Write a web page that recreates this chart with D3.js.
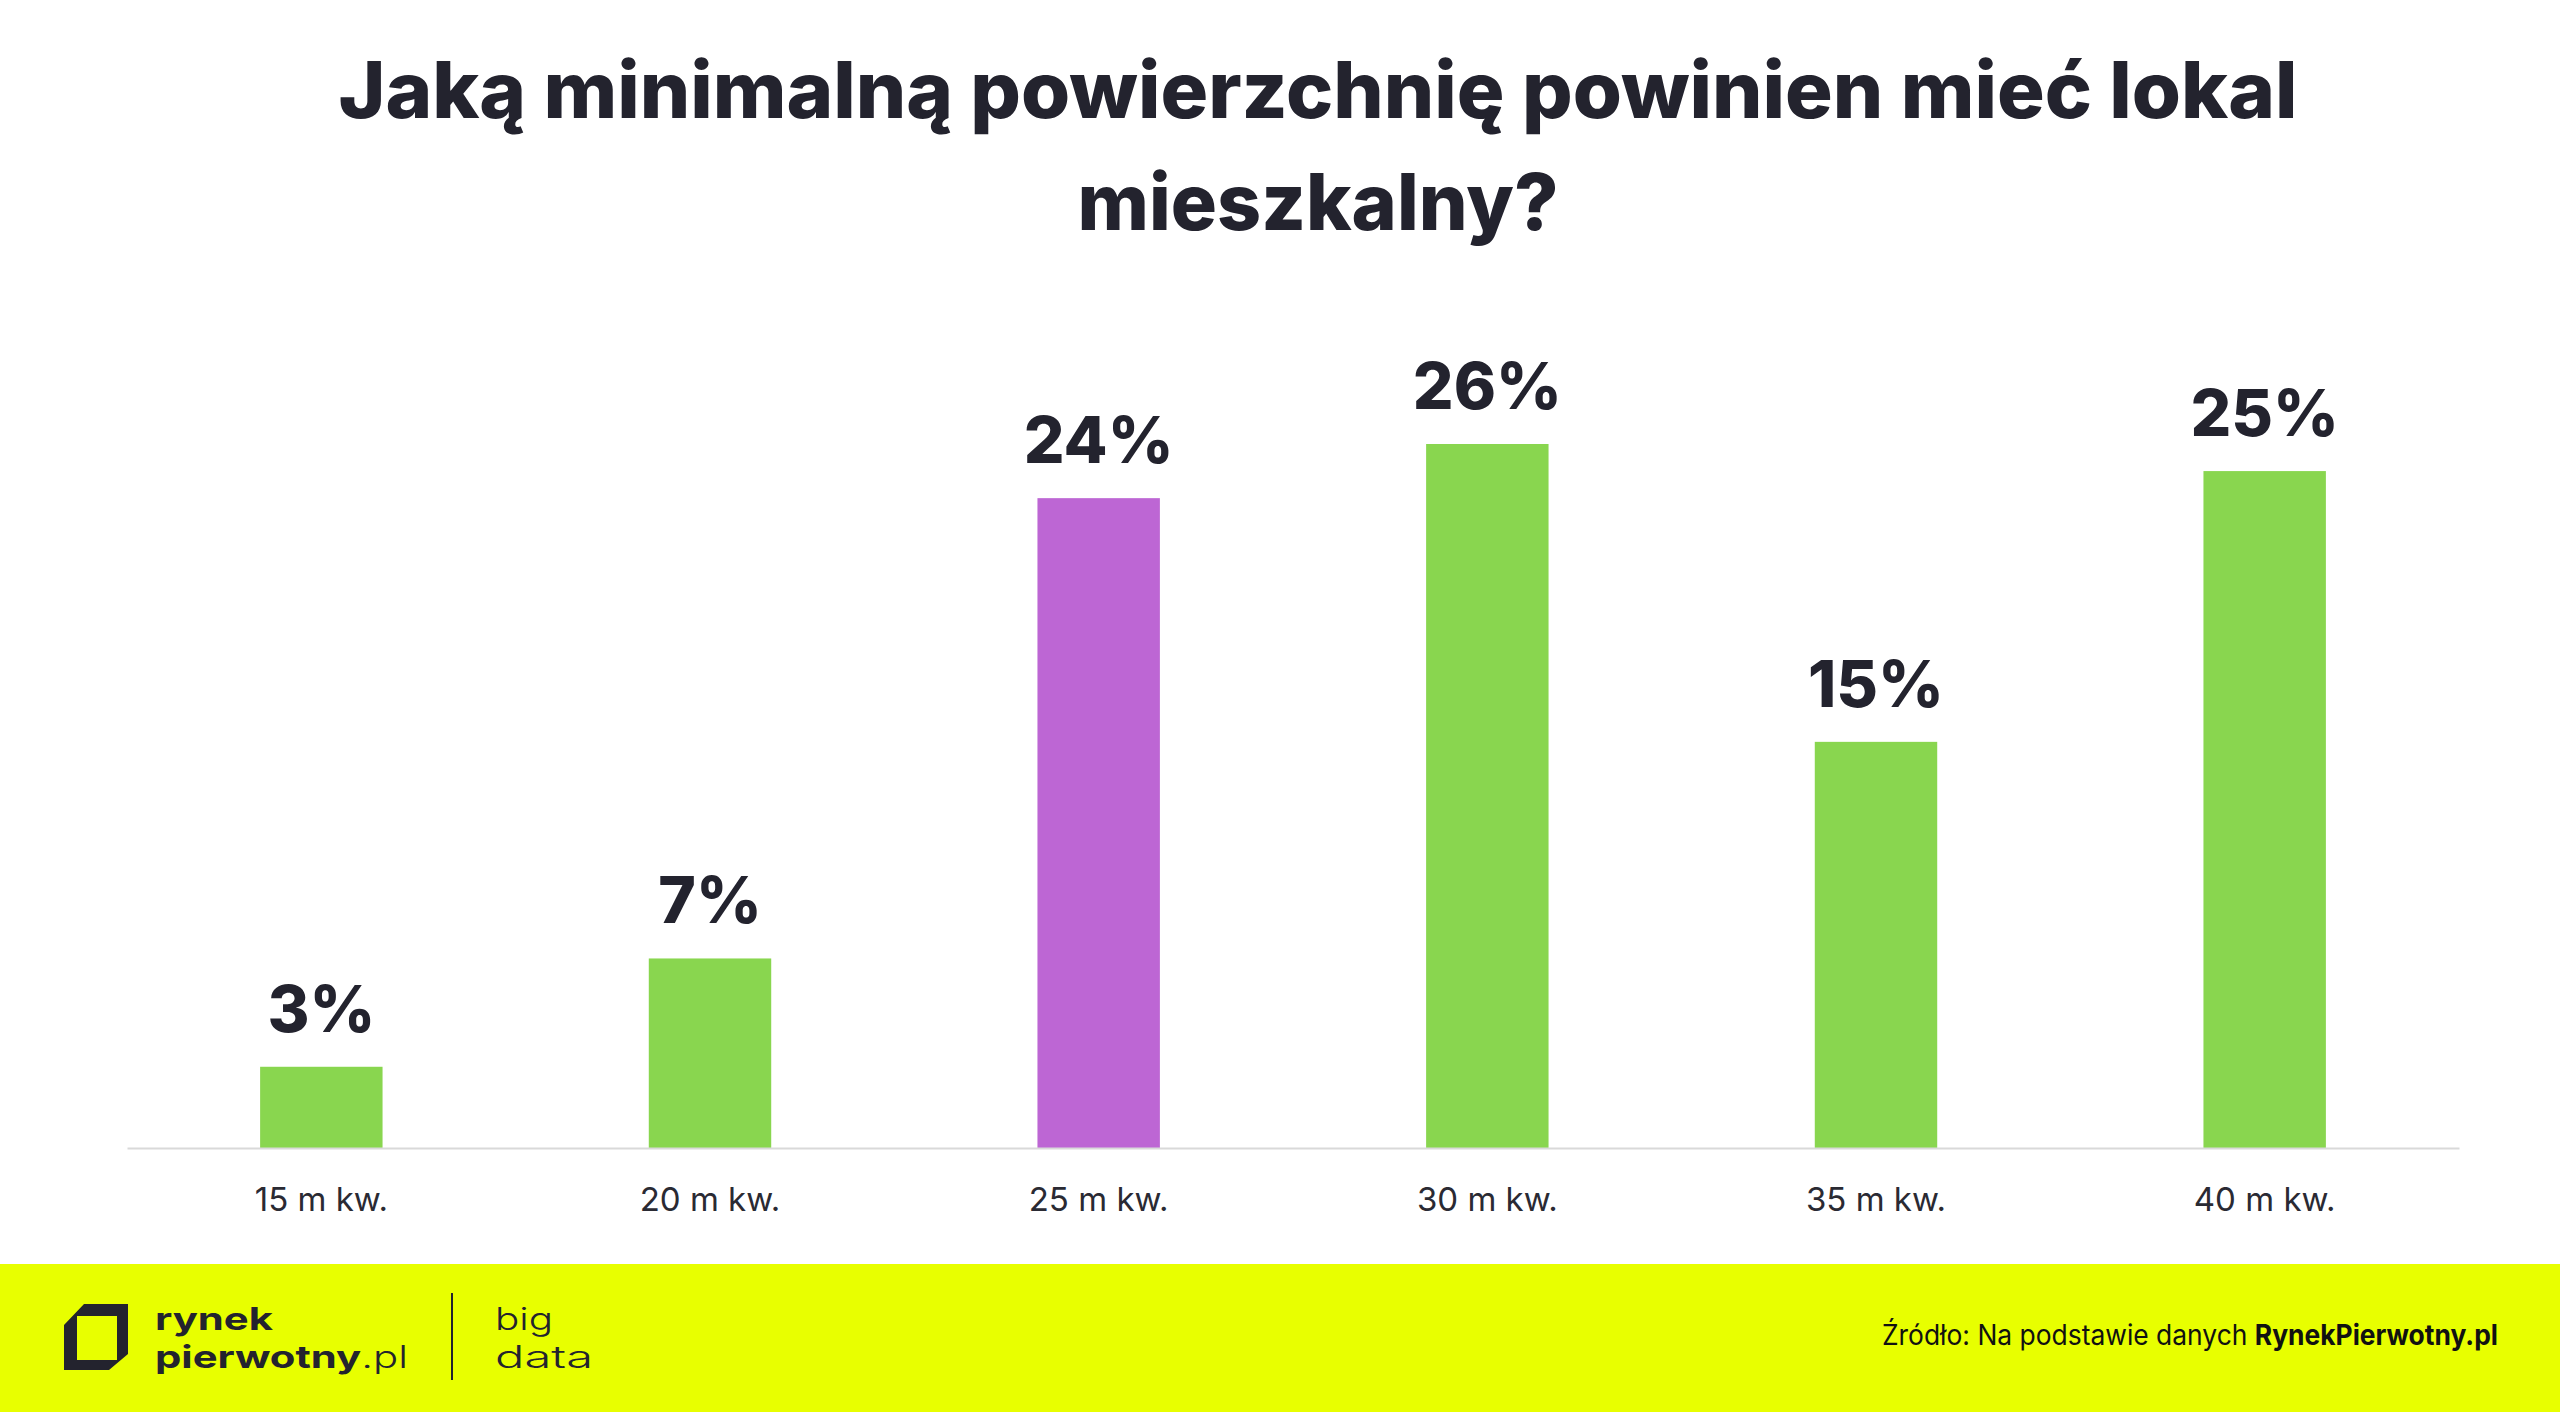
<!DOCTYPE html>
<html>
<head>
<meta charset="utf-8">
<script src="https://cdn.jsdelivr.net/npm/d3@7"></script>
<style>
  html, body { margin: 0; padding: 0; background: #ffffff; }
  svg { display: block; }
</style>
</head>
<body>
<svg id="chart" width="2560" height="1412"></svg>
<script>
// ---- data ----
const titleLines = ["Jaką minimalną powierzchnię powinien mieć lokal", "mieszkalny?"];
const categories = ["15 m kw.", "20 m kw.", "25 m kw.", "30 m kw.", "35 m kw.", "40 m kw."];
const values = [3, 7, 24, 26, 15, 25];
const highlighted = ["25 m kw."];
const sourcePrefix = "Źródło: Na podstawie danych ";
const sourceBold = "RynekPierwotny.pl";

// ---- layout ----
const W = 2560, H = 1412;
const dark = "#23232e";
const green = "#89d64f";
const purple = "#bd66d4";
const yellow = "#e8ff00";
const fontBold = "Inter, 'Open Sans', sans-serif";

const svg = d3.select("#chart");
svg.append("rect").attr("x", 0).attr("y", 0).attr("width", W).attr("height", H).attr("fill", "#fff");

// title
const titleWidths = [1959, 481];
const titleBaselines = [118, 230];
titleLines.forEach((t, i) => {
  svg.append("text")
    .attr("x", 1318).attr("y", titleBaselines[i])
    .attr("text-anchor", "middle")
    .attr("font-family", fontBold)
    .attr("font-weight", 800)
    .attr("font-size", 78)
    .attr("fill", dark)
    .attr("textLength", titleWidths[i])
    .attr("lengthAdjust", "spacingAndGlyphs")
    .text(t);
});

// scales
const x = d3.scaleBand().domain(categories).range([127, 2459]).paddingInner(0.685).paddingOuter(0.3425);
const y = d3.scaleLinear().domain([0, 26]).range([1148, 444]);

// bars
svg.append("g").selectAll("rect")
  .data(categories)
  .join("rect")
  .attr("x", d => x(d))
  .attr("y", (d, i) => y(values[i]))
  .attr("width", x.bandwidth())
  .attr("height", (d, i) => y(0) - y(values[i]))
  .attr("fill", d => highlighted.includes(d) ? purple : green);

// value labels
svg.append("g").selectAll("text")
  .data(categories)
  .join("text")
  .attr("x", d => x(d) + x.bandwidth() / 2)
  .attr("y", (d, i) => y(values[i]) - 35)
  .attr("text-anchor", "middle")
  .attr("font-family", fontBold)
  .attr("font-weight", 800)
  .attr("font-size", 64)
  .attr("fill", dark)
  .text((d, i) => values[i] + "%");

// x axis
const axis = svg.append("g").attr("transform", `translate(0,${y(0)})`)
  .call(d3.axisBottom(x).tickSize(0).tickPadding(52));
axis.select(".domain").attr("stroke", "#d9d9d9").attr("stroke-width", 2);
axis.selectAll(".tick text")
  .attr("font-family", fontBold)
  .attr("font-weight", 400)
  .attr("font-size", 33)
  .attr("fill", "#2a2a33")
  .attr("dy", 0)
  .attr("y", 63);

// footer band
svg.append("rect").attr("x", 0).attr("y", 1264).attr("width", W).attr("height", H - 1264).attr("fill", yellow);

// logo icon
const icon = svg.append("g");
icon.append("path")
  .attr("d", "M84,1304 L128,1304 L128,1354 L109,1370 L64,1370 L64,1325 Z M77,1316 L77,1360 L117,1360 L117,1316 Z")
  .attr("fill", dark)
  .attr("fill-rule", "evenodd");

// logo text
svg.append("text")
  .attr("x", 155).attr("y", 1330)
  .attr("font-family", fontBold).attr("font-weight", 700).attr("font-size", 31)
  .attr("fill", dark)
  .attr("textLength", 118).attr("lengthAdjust", "spacingAndGlyphs")
  .text("rynek");
const l2 = svg.append("text")
  .attr("x", 155).attr("y", 1368)
  .attr("font-family", fontBold).attr("font-size", 31)
  .attr("fill", dark)
  .attr("textLength", 253).attr("lengthAdjust", "spacingAndGlyphs");
l2.append("tspan").attr("font-weight", 700).text("pierwotny");
l2.append("tspan").attr("font-weight", 300).text(".pl");

svg.append("line")
  .attr("x1", 452).attr("x2", 452).attr("y1", 1293).attr("y2", 1380)
  .attr("stroke", dark).attr("stroke-width", 2);

svg.append("text")
  .attr("x", 495).attr("y", 1330)
  .attr("font-family", fontBold).attr("font-weight", 300).attr("font-size", 31)
  .attr("fill", dark)
  .attr("textLength", 58).attr("lengthAdjust", "spacingAndGlyphs")
  .text("big");
svg.append("text")
  .attr("x", 495).attr("y", 1368)
  .attr("font-family", fontBold).attr("font-weight", 300).attr("font-size", 31)
  .attr("fill", dark)
  .attr("textLength", 98).attr("lengthAdjust", "spacingAndGlyphs")
  .text("data");

// source
const src = svg.append("text")
  .attr("x", 2498).attr("y", 1345)
  .attr("text-anchor", "end")
  .attr("font-family", fontBold).attr("font-size", 28)
  .attr("fill", "#111")
  .attr("textLength", 616).attr("lengthAdjust", "spacingAndGlyphs");
src.append("tspan").attr("font-weight", 400).text(sourcePrefix);
src.append("tspan").attr("font-weight", 700).text(sourceBold);
</script>
</body>
</html>
